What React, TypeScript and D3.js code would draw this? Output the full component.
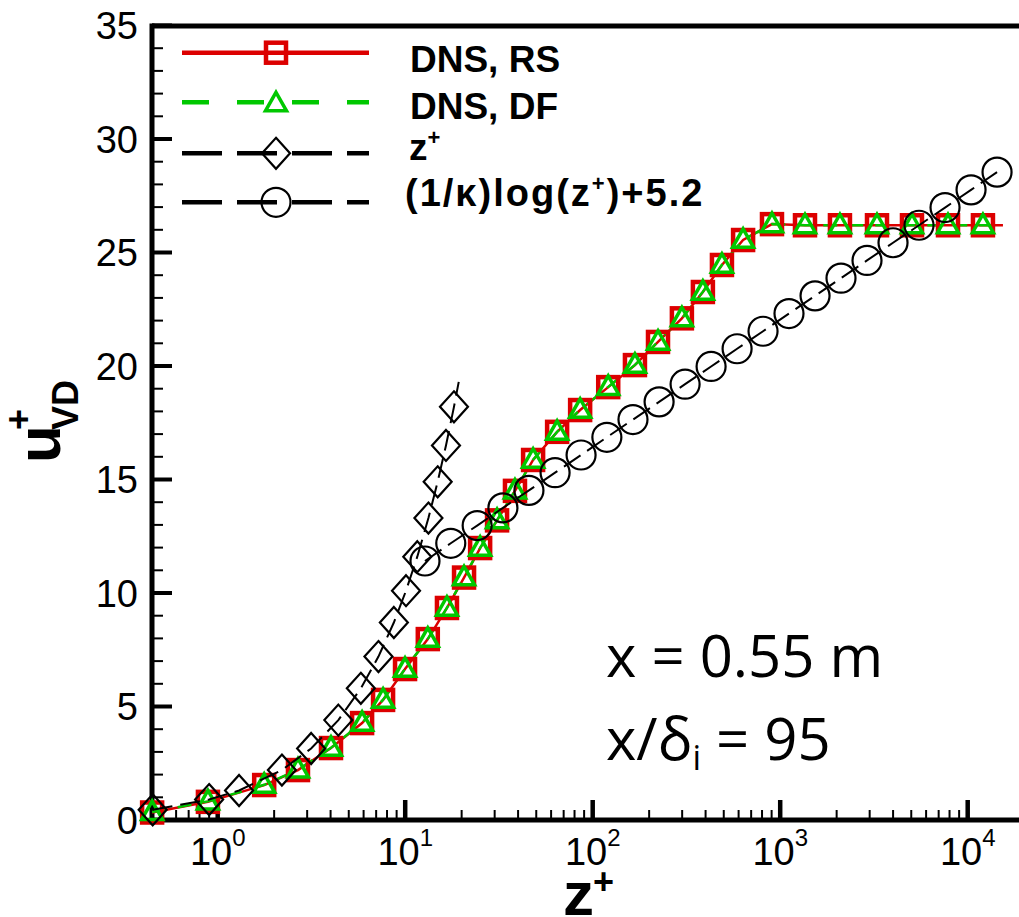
import React from "react";
import * as d3 from "d3";

// ---- data ----
const zDNS = [0.447, 0.887, 1.77, 2.68, 4.02, 5.89, 7.62, 9.98, 13.2, 16.7, 20.6, 25.1, 30.9, 38.5, 48.1, 64.6, 85.7, 121, 168, 223, 299, 387, 489, 634, 904, 1356, 2083, 3283, 5045, 7852, 12060, 15420];
const uRS = [0.33, 0.8, 1.54, 2.2, 3.17, 4.27, 5.29, 6.65, 7.97, 9.34, 10.68, 11.98, 13.2, 14.5, 15.86, 17.1, 18.06, 19.07, 20.04, 21.06, 22.1, 23.26, 24.45, 25.55, 26.25, 26.2, 26.2, 26.2, 26.2, 26.2, 26.2, 26.2];
const uDF = [0.35, 0.82, 1.55, 2.22, 3.18, 4.28, 5.3, 6.66, 7.98, 9.35, 10.69, 11.99, 13.21, 14.51, 15.87, 17.1, 18.07, 19.08, 20.05, 21.07, 22.1, 23.27, 24.46, 25.56, 26.25, 26.2, 26.2, 26.2, 26.2, 26.2, 26.2, 26.2];
const zLin = [0.45, 0.9, 1.3, 2.2, 3.15, 4.4, 5.8, 7.2, 8.7, 10.1, 11.6, 13.3, 14.9, 16.5, 18.2, 19.3];
const uLin = [0.45, 0.9, 1.3, 2.2, 3.15, 4.4, 5.8, 7.2, 8.7, 10.1, 11.6, 13.3, 14.9, 16.5, 18.2, 19.3];
const zLog = [12.75, 17.5, 24.2, 33.2, 45.7, 63.0, 86.7, 119, 164, 226, 311, 428, 589, 810, 1114, 1534, 2110, 2904, 3997, 5500, 7570, 10420, 14340];
const uLog = [11.41, 12.19, 12.97, 13.75, 14.52, 15.3, 16.08, 16.86, 17.64, 18.42, 19.2, 19.98, 20.76, 21.53, 22.31, 23.09, 23.87, 24.65, 25.43, 26.2, 26.98, 27.76, 28.54];
const yMajor = [0, 5, 10, 15, 20, 25, 30, 35];
const xExponents = [0, 1, 2, 3, 4];
const legendLabels = ["DNS, RS", "DNS, DF", "z", "(1/\u03ba)log(z"];

const RED = "#dc0000";
const GREEN = "#00c800";

export default function App() {
  const W = 1019, H = 917;
  const x = d3.scaleLog().domain([Math.pow(10, -0.3504), Math.pow(10, 4.2736)]).range([152, 1019]);
  const y = d3.scaleLinear().domain([0, 35]).range([820, 25.5]);

  const line = d3.line<[number, number]>().x(d => x(d[0])).y(d => y(d[1]));
  const pts = (zs: number[], us: number[]) => zs.map((z, i) => [z, us[i]] as [number, number]);
  const rs = pts(zDNS, uRS);
  const df = pts(zDNS, uDF);
  const lin = pts(zLin, uLin);
  const lg = pts(zLog, uLog);

  const sq = (cx: number, cy: number, k: string) => (
    <rect key={k} x={cx - 10} y={cy - 10} width={20} height={20} fill="none" stroke={RED} strokeWidth={4.5} />
  );
  const tri = (cx: number, cy: number, k: string) => (
    <path key={k} d={`M${cx},${cy - 11}L${cx + 10.5},${cy + 7.5}L${cx - 10.5},${cy + 7.5}Z`} fill="none" stroke={GREEN} strokeWidth={3.5} strokeLinejoin="miter" />
  );
  const dia = (cx: number, cy: number, k: string) => (
    <path key={k} d={`M${cx},${cy - 15.5}L${cx + 14},${cy}L${cx},${cy + 15.5}L${cx - 14},${cy}Z`} fill="none" stroke="#000" strokeWidth={2.2} />
  );
  const circ = (cx: number, cy: number, k: string) => (
    <circle key={k} cx={cx} cy={cy} r={14.5} fill="none" stroke="#000" strokeWidth={2.2} />
  );

  // ticks
  const yMinor: number[] = d3.range(0, 35).filter(v => v % 5 !== 0);
  const [d0, d1] = x.domain();
  const xMinor: number[] = [];
  for (let e = -1; e <= 4; e++) {
    for (let m = 2; m <= 9; m++) {
      const v = m * Math.pow(10, e);
      if (v > d0 && v < d1) xMinor.push(v);
    }
  }

  const legendY = [52.7, 102.3, 153.3, 202.3];
  const legendTextY = [72, 119, 160, 206];

  return (
    <svg width={W} height={H} style={{ position: "absolute", left: 0, top: 0, background: "#fff" }} fontFamily="'Liberation Sans', Arial, sans-serif">
      <rect x={0} y={0} width={W} height={H} fill="#fff" />
      {/* frame / axes */}
      <line x1={152} x2={W} y1={26} y2={26} stroke="#000" strokeWidth={5} />
      <line x1={152} x2={152} y1={23.5} y2={822.5} stroke="#000" strokeWidth={5} />
      <line x1={149.5} x2={W} y1={820} y2={820} stroke="#000" strokeWidth={5} />
      {yMajor.map(v => (
        <line key={"ym" + v} x1={152} x2={172} y1={y(v)} y2={y(v)} stroke="#000" strokeWidth={4} />
      ))}
      {yMinor.map(v => (
        <line key={"yn" + v} x1={152} x2={163} y1={y(v)} y2={y(v)} stroke="#000" strokeWidth={2} />
      ))}
      {xExponents.map(e => (
        <line key={"xm" + e} x1={x(Math.pow(10, e))} x2={x(Math.pow(10, e))} y1={820} y2={800} stroke="#000" strokeWidth={4.5} />
      ))}
      {xMinor.map(v => (
        <line key={"xn" + v} x1={x(v)} x2={x(v)} y1={820} y2={810} stroke="#000" strokeWidth={2} />
      ))}
      {yMajor.map(v => (
        <text key={"yl" + v} x={138} y={y(v) + 13.5} textAnchor="end" fontSize={38}>{v}</text>
      ))}
      {xExponents.map(e => (
        <text key={"xl" + e} x={x(Math.pow(10, e))} y={865} textAnchor="middle" fontSize={38}>
          10<tspan fontSize={24} dy={-19}>{e}</tspan>
        </text>
      ))}

      {/* axis titles */}
      <text x={563} y={915} fontSize={62} fontWeight="bold">z</text>
      <text x={593} y={894} fontSize={36} fontWeight="bold">+</text>
      <g transform="translate(60,463) rotate(-90)">
        <text x={0} y={0} fontSize={62} fontWeight="bold">u</text>
        <text x={33} y={-29} fontSize={36} fontWeight="bold">+</text>
        <text x={33} y={18} fontSize={36} fontWeight="bold">VD</text>
      </g>

      {/* series */}
      <path d={line(rs) || ""} fill="none" stroke={RED} strokeWidth={2.5} />
      <path d={line(df) || ""} fill="none" stroke={GREEN} strokeWidth={2.5} strokeDasharray="14 12" />
      {rs.slice(0, -1).map((p, i) => sq(x(p[0]), y(p[1]), "s" + i))}
      {df.slice(0, -1).map((p, i) => tri(x(p[0]), y(p[1]), "t" + i))}
      <path d={line(lin) || ""} fill="none" stroke="#000" strokeWidth={2} strokeDasharray="20 8" />
      {lin.slice(0, -1).map((p, i) => dia(x(p[0]), y(p[1]), "d" + i))}
      <path d={line(lg) || ""} fill="none" stroke="#000" strokeWidth={2} strokeDasharray="20 8" />
      {lg.map((p, i) => circ(x(p[0]), y(p[1]), "c" + i))}

      {/* legend */}
      <line x1={182} x2={369} y1={legendY[0]} y2={legendY[0]} stroke={RED} strokeWidth={4.5} />
      {sq(276, legendY[0], "ls")}
      <line x1={182} x2={369} y1={legendY[1]} y2={legendY[1]} stroke={GREEN} strokeWidth={4.5} strokeDasharray="27 28" />
      {tri(276, legendY[1] + 1, "lt")}
      <line x1={182} x2={369} y1={legendY[2]} y2={legendY[2]} stroke="#000" strokeWidth={4.5} strokeDasharray="40 15" />
      {dia(276, legendY[2], "ld")}
      <line x1={182} x2={369} y1={legendY[3]} y2={legendY[3]} stroke="#000" strokeWidth={4.5} strokeDasharray="40 15" />
      {circ(276, legendY[3], "lc")}

      <text x={410} y={legendTextY[0]} fontSize={37} fontWeight="bold">{legendLabels[0]}</text>
      <text x={410} y={legendTextY[1]} fontSize={37} fontWeight="bold">{legendLabels[1]}</text>
      <text x={409} y={legendTextY[2]} fontSize={37} fontWeight="bold">
        {legendLabels[2]}<tspan fontSize={22} dy={-15}>+</tspan>
      </text>
      <text x={405} y={legendTextY[3]} fontSize={38} fontWeight="bold" letterSpacing={2}>
        {legendLabels[3]}<tspan fontSize={22} dy={-15}>+</tspan><tspan dy={15}>)+5.2</tspan>
      </text>

      {/* annotation */}
      <text x={606} y={677} fontSize={58} fontFamily="'Open Sans', sans-serif">x = 0.55 m</text>
      <text x={606} y={760} fontSize={58} fontFamily="'Open Sans', sans-serif">
        x/δ<tspan fontSize={34} dy={10}>i</tspan><tspan dy={-10}> = 95</tspan>
      </text>
    </svg>
  );
}
